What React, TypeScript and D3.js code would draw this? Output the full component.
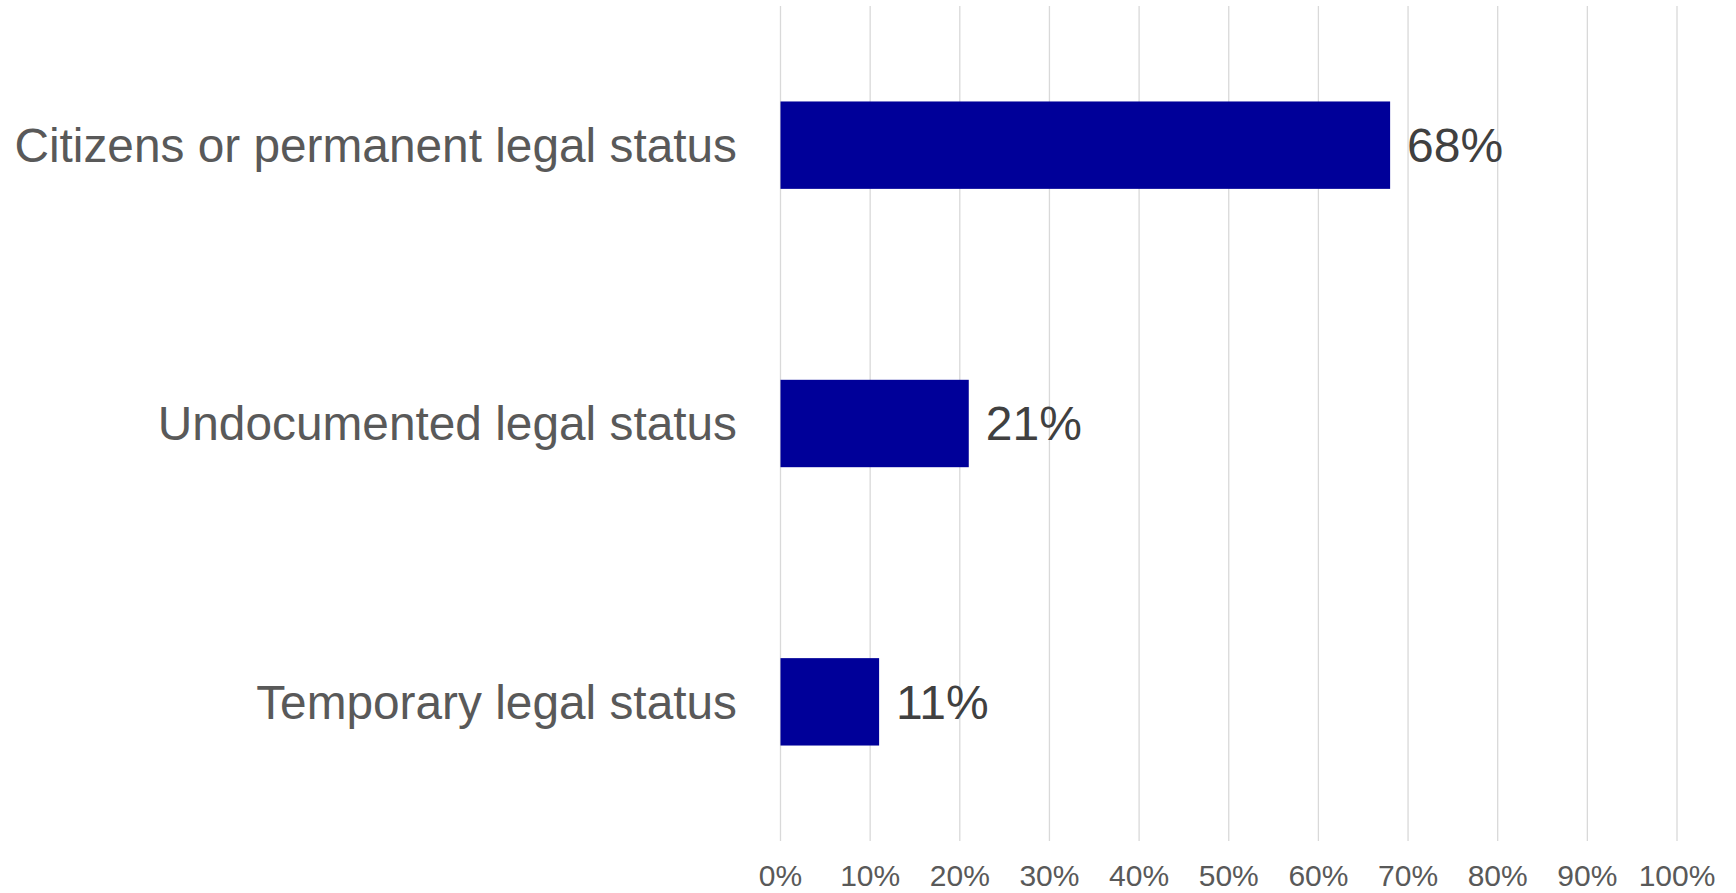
import React from "react";
import * as d3 from "d3";

const categories: string[] = [
  "Citizens or permanent legal status",
  "Undocumented legal status",
  "Temporary legal status",
];
const values: number[] = [0.68, 0.21, 0.11];
const tickValues: number[] = [0, 0.1, 0.2, 0.3, 0.4, 0.5, 0.6, 0.7, 0.8, 0.9, 1.0];

const W = 1736;
const H = 893;

export default function App() {
  const x = d3.scaleLinear().domain([0, 1]).range([780.5, 1677]);
  const y = d3
    .scaleBand<string>()
    .domain(categories)
    .range([6, 841])
    .paddingInner(0.686)
    .paddingOuter(0.343);
  const fmt = d3.format(".0%");
  const font = "'Liberation Sans', Arial, sans-serif";

  return (
    <svg
      width={W}
      height={H}
      style={{ position: "absolute", left: 0, top: 0, background: "#fff" }}
      fontFamily={font}
    >
      {tickValues.map((t) => (
        <line
          key={"g" + t}
          x1={x(t)}
          x2={x(t)}
          y1={6}
          y2={841}
          stroke="#d9d9d9"
          strokeWidth={1.3}
        />
      ))}
      {tickValues.map((t) => (
        <text
          key={"t" + t}
          x={x(t)}
          y={886}
          textAnchor="middle"
          fontSize={30}
          fill="#595959"
        >
          {fmt(t)}
        </text>
      ))}
      {categories.map((c, i) => (
        <g key={c}>
          <rect
            x={x(0)}
            y={y(c)!}
            width={x(values[i]) - x(0)}
            height={y.bandwidth()}
            fill="#000099"
          />
          <text
            x={737}
            y={y(c)! + y.bandwidth() / 2}
            dy="0.35em"
            textAnchor="end"
            fontSize={47.8}
            fill="#595959"
          >
            {c}
          </text>
          <text
            x={x(values[i]) + 17}
            y={y(c)! + y.bandwidth() / 2}
            dy="0.35em"
            textAnchor="start"
            fontSize={48}
            fill="#404040"
          >
            {fmt(values[i])}
          </text>
        </g>
      ))}
    </svg>
  );
}
